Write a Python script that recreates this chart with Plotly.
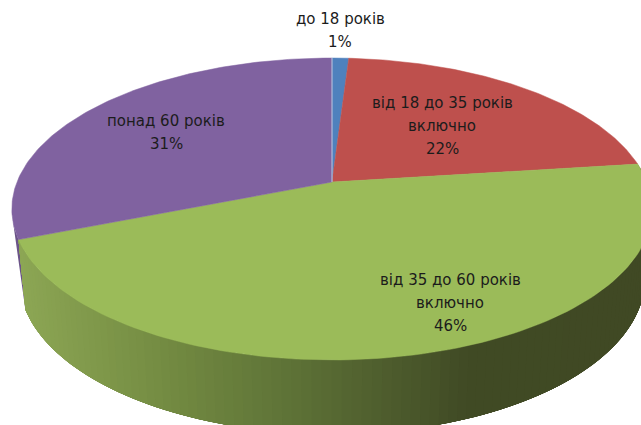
import numpy as np
import plotly.graph_objects as go

# data
age_labels = [["до 18 років"], ["від 18 до 35 років", "включно"],
              ["від 35 до 60 років", "включно"], ["понад 60 років"]]
shares = [1, 22, 46, 31]

# style / layout
colors = ["#4F81BD", "#BE504D", "#9BBB59", "#8062A0"]
side_purple = "#6B5488"
side_stops_x = [20, 160, 300, 470, 660]
side_stops_rgb = [(140, 166, 84), (116, 140, 66), (92, 112, 54), (64, 74, 36), (64, 73, 36)]
label_pos = [(340, 19), (442, 103), (450, 280), (166, 121)]
line_step = 23
FONT = "DejaVu Sans"
FS = 15
W, H = 641, 425
CX, CY, RX, A, K = 332, 182, 315, -113.6, 0.1788
DEPTH0, DEPTH1, SHRINK = 68, 6, 0.978


def project(theta_deg, bottom=False):
    t = np.radians(theta_deg)
    u, v = np.sin(t), np.cos(t)
    w = 1 + K * v
    rx = RX * (SHRINK if bottom else 1)
    x = CX + rx * u / w
    y = (CY + A * v) / w
    return x, y + (DEPTH0 - DEPTH1 * v if bottom else 0)


def side_color(x):
    rgb = [np.interp(x, side_stops_x, [s[i] for s in side_stops_rgb]) for i in range(3)]
    return "rgb(%d,%d,%d)" % tuple(round(c) for c in rgb)


cum = np.concatenate([[0], np.cumsum(shares)]) / sum(shares) * 360
fig = go.Figure()


def poly(xs, ys, color, lw=0.0):
    fig.add_trace(go.Scatter(x=xs, y=ys, mode="lines", fill="toself", fillcolor=color,
                             line=dict(color=color, width=lw), hoverinfo="skip",
                             showlegend=False))


# purple wall sliver: only a thin edge is visible at the far left
th = np.linspace(cum[3], cum[3] + 9, 10)
xt, yt = project(th)
xb, yb = project(cum[3], True)
poly(np.r_[xt, xb], np.r_[yt, yb], side_purple)

# green wall: each later strip also covers the previous one, which hides hairline seams
edges = np.linspace(cum[2], cum[3], 110)
step = edges[1] - edges[0]
for a, b in zip(edges[:-1], edges[1:]):
    th = np.linspace(a, min(b + 6 * step, cum[3]), 10)
    xt, yt = project(th)
    xb, yb = project(th, True)
    poly(np.r_[xt, xb[::-1]], np.r_[yt, yb[::-1]], side_color(project(a + step / 2)[0]))

# top surface wedges
for i, c in enumerate(colors):
    th = np.linspace(cum[i], cum[i + 1], 120)
    x, y = project(th)
    poly(np.r_[CX, x, CX], np.r_[CY, y, CY], c, lw=0.5)

# thin light seam at the start of the first slice
xs, ys = project(0.0)
fig.add_trace(go.Scatter(x=[CX, xs], y=[CY, ys], mode="lines",
                         line=dict(color="#B9CDE5", width=1), hoverinfo="skip", showlegend=False))

# labels
for lines, share, (lx, ly) in zip(age_labels, shares, label_pos):
    for j, t in enumerate(lines + [f"{share}%"]):
        fig.add_annotation(x=lx, y=ly + j * line_step, text=t, showarrow=False,
                           xanchor="center", yanchor="middle",
                           font=dict(family=FONT, size=FS, color="#1c1c1c"))

fig.update_layout(width=W, height=H, margin=dict(l=0, r=0, t=0, b=0),
                  paper_bgcolor="white", plot_bgcolor="white", showlegend=False,
                  xaxis=dict(range=[0, W], visible=False, fixedrange=True),
                  yaxis=dict(range=[H, 0], visible=False, fixedrange=True))
fig.write_html("out.html", config=dict(displayModeBar=False),
               post_script="document.body.style.margin='0';document.body.style.overflow='hidden';")
